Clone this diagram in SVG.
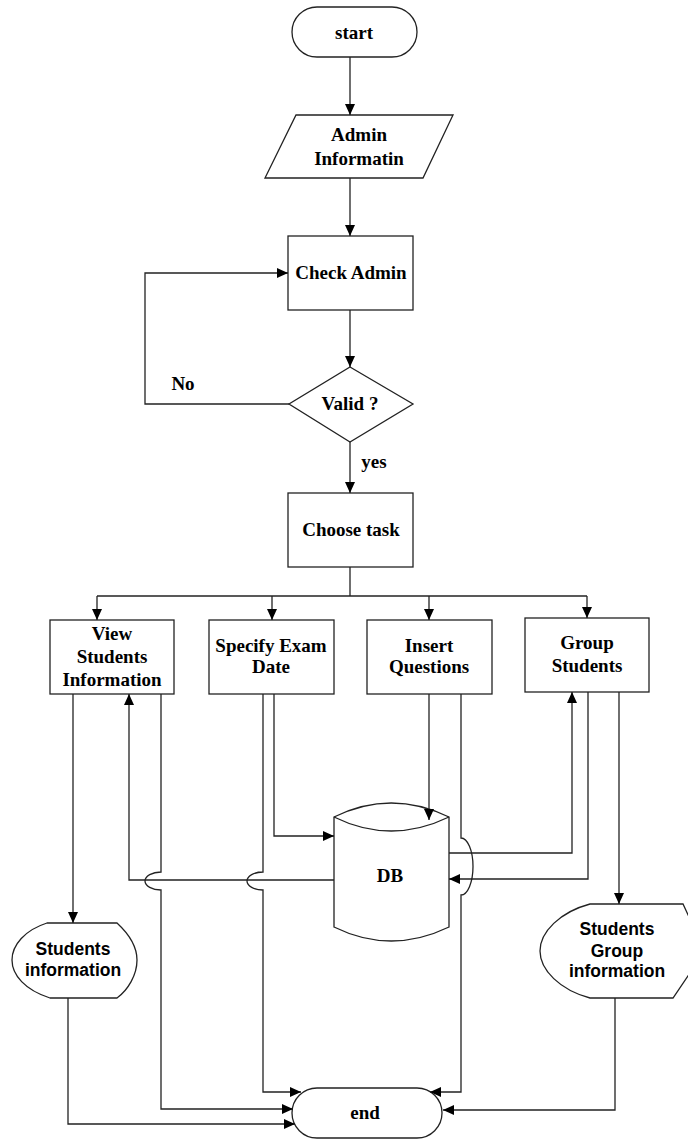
<svg xmlns="http://www.w3.org/2000/svg" width="688" height="1140" viewBox="0 0 688 1140">
<style>
.s{fill:#fff;stroke:#222;stroke-width:1.3}
.c{fill:none;stroke:#222;stroke-width:1.3}
.t{font-family:"Liberation Serif","Times New Roman",serif;font-weight:bold;font-size:19px;fill:#000;text-anchor:middle}
.a{font-family:"Liberation Sans",Arial,sans-serif;font-weight:bold;font-size:17.5px;fill:#000;text-anchor:middle}
</style>
<defs>
<marker id="ar" markerUnits="userSpaceOnUse" markerWidth="12" markerHeight="10" refX="11" refY="5" orient="auto">
<path d="M0,0 L11,5 L0,10 Z" fill="#000"/>
</marker>
</defs>
<g id="start">
<rect class="s" x="292" y="7" width="125" height="50" rx="25"/>
<text class="t" x="354" y="39">start</text>
</g>
<g id="admin-info">
<path class="s" d="M296,115 H453 L423,178 H265 Z"/>
<text class="t" x="359" y="141">Admin</text>
<text class="t" x="359" y="165">Informatin</text>
</g>
<g id="check-admin">
<rect class="s" x="288" y="236" width="125" height="74"/>
<text class="t" x="351" y="279">Check Admin</text>
</g>
<g id="valid">
<path class="s" d="M350,367 L413,404 L350,442 L289,404 Z"/>
<text class="t" x="350" y="410">Valid ?</text>
</g>
<text class="t" x="183" y="390">No</text>
<text class="t" x="374" y="468">yes</text>
<g id="choose-task">
<rect class="s" x="288" y="493" width="125" height="74"/>
<text class="t" x="351" y="536">Choose task</text>
</g>
<g id="view-students">
<rect class="s" x="50" y="620" width="124" height="74"/>
<text class="t" x="112" y="640">View</text>
<text class="t" x="112" y="663">Students</text>
<text class="t" x="112" y="686">Information</text>
</g>
<g id="specify-exam">
<rect class="s" x="209" y="620" width="125" height="74"/>
<text class="t" x="271" y="652">Specify Exam</text>
<text class="t" x="271" y="673">Date</text>
</g>
<g id="insert-questions">
<rect class="s" x="367" y="620" width="125" height="74"/>
<text class="t" x="429" y="652">Insert</text>
<text class="t" x="429" y="673">Questions</text>
</g>
<g id="group-students">
<rect class="s" x="525" y="618" width="124" height="74"/>
<text class="t" x="587" y="649">Group</text>
<text class="t" x="587" y="672">Students</text>
</g>
<g id="db">
<path class="s" d="M334,817 Q391,789 449,817 V927 Q391,955 334,927 Z"/>
<path class="c" d="M334,817 Q391,845 449,817"/>
<text class="t" x="390" y="882">DB</text>
</g>
<g id="students-info">
<path class="s" d="M47,923 H117 C130,935 137,948 137,960 C137,975 128,990 117,998 H50 C25,990 12,975 12,960 C12,945 25,930 47,923 Z"/>
<text class="a" x="73" y="955">Students</text>
<text class="a" x="73" y="976">information</text>
</g>
<g id="students-group-info">
<path class="s" d="M590,904 H683 L705,951 L673,998 H590 C560,990 540,970 540,951 C540,932 560,912 590,904 Z"/>
<text class="a" x="617" y="935">Students</text>
<text class="a" x="617" y="957">Group</text>
<text class="a" x="617" y="977">information</text>
</g>
<g id="end">
<rect class="s" x="292" y="1088" width="150" height="50" rx="25"/>
<text class="t" x="365" y="1119">end</text>
</g>
<g id="connectors">
<path class="c" d="M350,57 V115" marker-end="url(#ar)"/>
<path class="c" d="M350,178 V236" marker-end="url(#ar)"/>
<path class="c" d="M350,310 V367" marker-end="url(#ar)"/>
<path class="c" d="M289,404 H145 V273 H288" marker-end="url(#ar)"/>
<path class="c" d="M350,442 V493" marker-end="url(#ar)"/>
<path class="c" d="M350,567 V596"/>
<path class="c" d="M97,596 H587"/>
<path class="c" d="M97,596 V620" marker-end="url(#ar)"/>
<path class="c" d="M272,596 V620" marker-end="url(#ar)"/>
<path class="c" d="M429,596 V620" marker-end="url(#ar)"/>
<path class="c" d="M587,596 V618" marker-end="url(#ar)"/>
<path class="c" d="M73,694 V923" marker-end="url(#ar)"/>
<path class="c" d="M334,880 H129 V694" marker-end="url(#ar)"/>
<path class="c" d="M161,694 V872 A16 9 0 0 0 161,890 V1109 H293" marker-end="url(#ar)"/>
<path class="c" d="M263,694 V872 A16 9 0 0 0 263,890 V1092 H301" marker-end="url(#ar)"/>
<path class="c" d="M274,694 V836 H334" marker-end="url(#ar)"/>
<path class="c" d="M429,694 V820" marker-end="url(#ar)"/>
<path class="c" d="M461,694 V838 A12 28.5 0 0 1 461,895 V1092 H430" marker-end="url(#ar)"/>
<path class="c" d="M449,853 H572 V692" marker-end="url(#ar)"/>
<path class="c" d="M588,692 V879 H449" marker-end="url(#ar)"/>
<path class="c" d="M619,692 V904" marker-end="url(#ar)"/>
<path class="c" d="M68,998 V1124 H295" marker-end="url(#ar)"/>
<path class="c" d="M615,998 V1110 H443" marker-end="url(#ar)"/>
</g>
</svg>
